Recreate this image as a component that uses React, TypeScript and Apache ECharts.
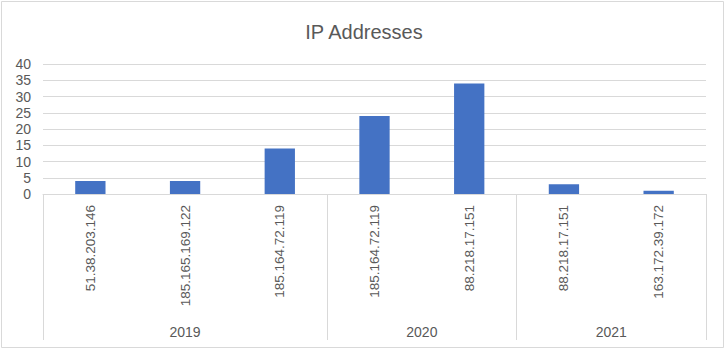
import React, { useEffect, useRef } from "react";
import * as echarts from "echarts";

const ipLabels = [
  "51.38.203.146",
  "185.165.169.122",
  "185.164.72.119",
  "185.164.72.119",
  "88.218.17.151",
  "88.218.17.151",
  "163.172.39.172",
];
const years = ["2019", "2020", "2021"];
const yearGroupSizes = [3, 2, 2];
const counts = [4, 4, 14, 24, 34, 3, 1];

const TEXT = "#595959";
const GRID = "#d9d9d9";
const FONT = "'Liberation Sans', Arial, sans-serif";

export default function App() {
  const ref = useRef<HTMLDivElement>(null);

  useEffect(() => {
    if (!ref.current) return;
    const chart = echarts.init(ref.current, undefined, { renderer: "svg" });

    const boundaries: number[] = [0];
    let acc = 0;
    yearGroupSizes.forEach((s) => {
      acc += s;
      boundaries.push(acc);
    });

    chart.setOption({
      animation: false,
      backgroundColor: "#ffffff",
      title: {
        text: "IP Addresses",
        left: "center",
        top: 17,
        textStyle: { color: TEXT, fontSize: 20, fontWeight: "normal", fontFamily: FONT },
      },
      grid: { left: 43, right: 22, top: 64, bottom: 157, containLabel: false },
      xAxis: {
        type: "category",
        data: ipLabels,
        axisLine: { show: true, lineStyle: { color: GRID, width: 1 } },
        axisTick: {
          show: true,
          length: 146,
          interval: (i: number) => boundaries.indexOf(i) >= 0,
          lineStyle: { color: GRID, width: 1 },
        },
        axisLabel: {
          rotate: 90,
          interval: 0,
          margin: 11,
          color: TEXT,
          fontSize: 13.5,
          fontFamily: FONT,
        },
      },
      yAxis: {
        type: "value",
        min: 0,
        max: 40,
        interval: 5,
        axisLine: { show: false },
        axisTick: { show: false },
        splitLine: { lineStyle: { color: GRID, width: 1 } },
        axisLabel: { color: TEXT, fontSize: 14, fontFamily: FONT, margin: 12 },
      },
      series: [
        {
          type: "bar",
          data: counts,
          barWidth: "32%",
          itemStyle: { color: "#4472C4" },
        },
      ],
    });

    const graphics: any[] = [
      {
        type: "rect",
        shape: { x: 1.5, y: 1.5, width: 722, height: 346 },
        style: { fill: "none", stroke: GRID, lineWidth: 1 },
        silent: true,
      },
    ];
    let start = 0;
    yearGroupSizes.forEach((s, gi) => {
      const first = chart.convertToPixel({ xAxisIndex: 0 }, start) as number;
      const last = chart.convertToPixel({ xAxisIndex: 0 }, start + s - 1) as number;
      const cx = (first + last) / 2;
      graphics.push({
        type: "text",
        x: cx,
        y: 332,
        style: {
          text: years[gi],
          fill: TEXT,
          font: `14px ${FONT}`,
          align: "center",
          verticalAlign: "middle",
        },
      });
      start += s;
    });
    chart.setOption({ graphic: graphics });

    return () => chart.dispose();
  }, []);

  return (
    <div
      ref={ref}
      style={{ position: "fixed", left: 0, top: 0, width: 728, height: 351 }}
    />
  );
}
